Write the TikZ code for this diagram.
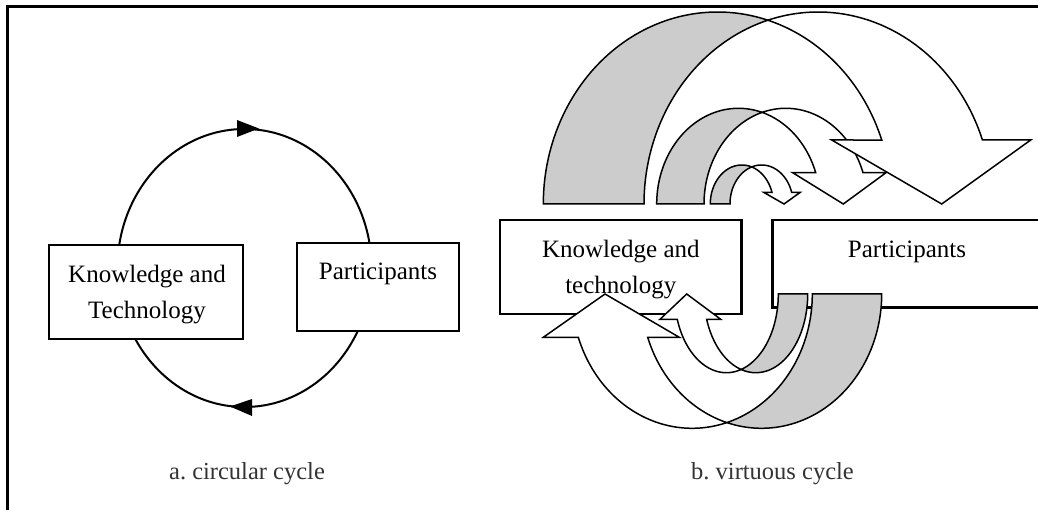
\documentclass[tikz,border=0pt]{standalone}
\usepackage{fontspec}
\setmainfont{Liberation Serif}
\frenchspacing
\definecolor{ribbongray}{RGB}{204,204,204}
% curved arrow bending down: cxA, base, rx, ry, thickness, barb y, left tip x, right tip x, tip x
\newcommand{\ribbondown}[9]{%
  \pgfmathsetmacro{\rcA}{#1}%
  \pgfmathsetmacro{\rbase}{#2}%
  \pgfmathsetmacro{\rrx}{#3}%
  \pgfmathsetmacro{\rry}{#4}%
  \pgfmathsetmacro{\rcB}{#1+#5}%
  \pgfmathsetmacro{\rtI}{acos((#5)/2/(#3))}%
  \pgfmathsetmacro{\rtIB}{180-\rtI}%
  \pgfmathsetmacro{\rpb}{asin((#2-#6)/(#4))}%
  \filldraw[ribbon, fill=ribbongray]
    plot[domain=180:\rtI, samples=70] ({\rcA+\rrx*cos(\x)},{\rbase-\rry*sin(\x)})
    -- plot[domain=\rtIB:180, samples=70] ({\rcB+\rrx*cos(\x)},{\rbase-\rry*sin(\x)})
    -- cycle;
  \filldraw[ribbon, fill=white]
    plot[domain=\rtIB:\rpb, samples=90] ({\rcB+\rrx*cos(\x)},{\rbase-\rry*sin(\x)})
    -- (#8,#6) -- (#9,#2) -- (#7,#6)
    -- plot[domain=\rpb:\rtI, samples=70] ({\rcA+\rrx*cos(\x)},{\rbase-\rry*sin(\x)})
    -- cycle;
}
% curved arrow bending up: cxA, top, rx, ry, thickness, barb y, left tip x, right tip x, tip x
\newcommand{\ribbonup}[9]{%
  \pgfmathsetmacro{\rcA}{#1}%
  \pgfmathsetmacro{\rtop}{#2}%
  \pgfmathsetmacro{\rrx}{#3}%
  \pgfmathsetmacro{\rry}{#4}%
  \pgfmathsetmacro{\rcB}{#1-#5}%
  \pgfmathsetmacro{\ra}{acos((#5)/2/(#3))}%
  \pgfmathsetmacro{\rtIA}{180-\ra}%
  \pgfmathsetmacro{\rpb}{180-asin((#6-#2)/(#4))}%
  \filldraw[ribbon, fill=ribbongray]
    plot[domain=0:\rtIA, samples=70] ({\rcA+\rrx*cos(\x)},{\rtop+\rry*sin(\x)})
    -- plot[domain=\ra:0, samples=70] ({\rcB+\rrx*cos(\x)},{\rtop+\rry*sin(\x)})
    -- cycle;
  \filldraw[ribbon, fill=white]
    plot[domain=\ra:\rpb, samples=90] ({\rcB+\rrx*cos(\x)},{\rtop+\rry*sin(\x)})
    -- (#7,#6) -- (#9,#2) -- (#8,#6)
    -- plot[domain=\rpb:\rtIA, samples=70] ({\rcA+\rrx*cos(\x)},{\rtop+\rry*sin(\x)})
    -- cycle;
}
\begin{document}
\begin{tikzpicture}[x=1pt,y=-1pt,
  boxstyle/.style={draw=black, line width=2.5pt, fill=white, inner sep=0pt, rectangle},
  boxtext/.style={font=\fontsize{25}{30}\selectfont, inner sep=0pt, anchor=base},
  captiontext/.style={font=\fontsize{24.5}{30}\selectfont, inner sep=0pt, anchor=base, text=black!80},
  ribbon/.style={draw=black, line width=1.5pt, line join=miter},
  cycleline/.style={draw=black, line width=2pt},
  ]
\useasboundingbox (0,0) rectangle (1038,510);
\clip (0,0) rectangle (1038,510);
\fill[white] (0,0) rectangle (1038,510);
% frame
\draw[line width=3pt] (7,7) rectangle (1070,540);

% ---------- a. circular cycle ----------
\draw[cycleline] (244.5,268) ellipse [x radius=127pt, y radius=139pt];
\fill (237,120) -- (259,128.5) -- (237,137) -- cycle;
\fill (252,399) -- (230,406.5) -- (252,416) -- cycle;
\node[boxstyle, minimum width=194pt, minimum height=94pt] (kta) at (146,292) {};
\node[boxstyle, minimum width=162pt, minimum height=88pt] (pa) at (378,287) {};
\node[boxtext] (ktaone) at (147,282.7) {Knowledge and};
\node[boxtext] (ktatwo) at (147,318.3) {Technology};
\node[boxtext] (patext) at (378,280) {Participants};
\node[captiontext] (capa) at (247,479.5) {a. circular cycle};

% ---------- b. virtuous cycle ----------
\node[boxstyle, minimum width=241.7pt, minimum height=94pt] (ktb) at (620.85,267) {};
\node[boxstyle, minimum width=287.3pt, minimum height=87.3pt] (pb) at (916.35,263.65) {};

% top arrows (small, middle, big)
\ribbondown{741.85}{204}{31.55}{39}{19.7}{192.5}{764}{800}{784}
\ribbondown{738.45}{204}{81.75}{95.7}{47.3}{172.7}{792.7}{886}{843.3}
\ribbondown{717.5}{204}{174.2}{192}{100.7}{140}{831.7}{1030.7}{941.7}

% bottom arrows (big, middle)
\ribbonup{761.5}{294}{120.2}{134.3}{69.4}{337.3}{543.3}{679.3}{605}
\ribbonup{755.8}{294}{51.9}{78.7}{29.4}{319.3}{660}{720.7}{686.7}

\node[boxtext] (ktbone) at (620.8,257.7) {Knowledge and};
\node[boxtext] (ktbtwo) at (620.8,293.3) {technology};
\node[boxtext] (pbtext) at (907,257.3) {Participants};
\node[captiontext] (capb) at (772.5,479.3) {b. virtuous cycle};
\end{tikzpicture}
\end{document}
